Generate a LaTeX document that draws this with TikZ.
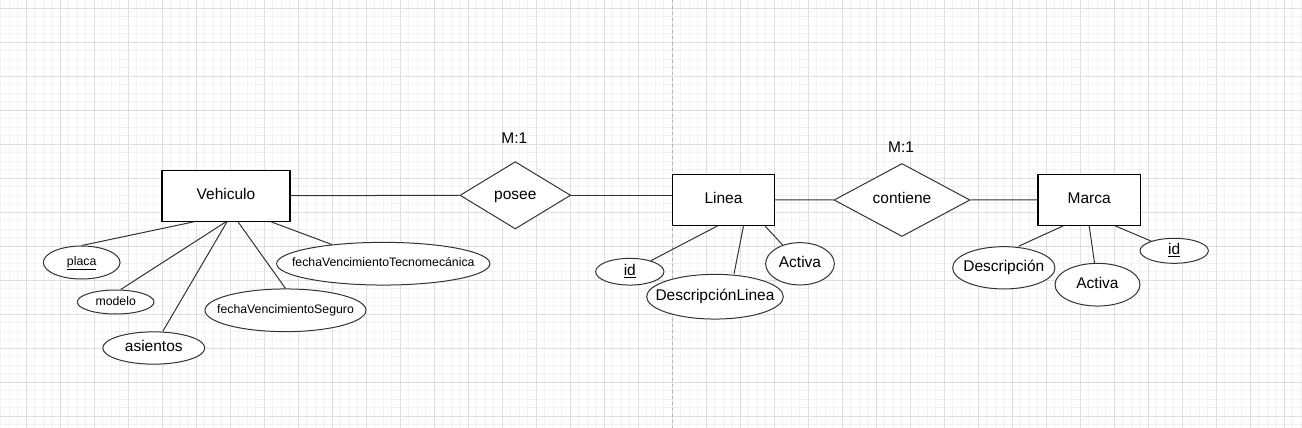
\documentclass[tikz,border=0pt]{standalone}
\usepackage{fontspec}
\setmainfont{Liberation Sans}
\usetikzlibrary{shapes.geometric}
\newcommand{\attrlabel}[1]{\makebox[0pt]{#1}}

\begin{document}
\begin{tikzpicture}[x=1pt,y=-1pt,
    bigtext/.style={font=\fontsize{15.5}{18}\selectfont,text height=11.1pt,text depth=3.3pt},
    smalltext/.style={font=\fontsize{12.3}{14}\selectfont,text height=8.8pt,text depth=2.6pt},
    entity/.style={draw=black,line width=1.2pt,fill=white,minimum width=128pt,minimum height=51pt,inner sep=0pt,bigtext},
    relation/.style={diamond,draw=black!80,line width=1pt,fill=white,inner sep=0pt,bigtext},
    attr/.style={ellipse,draw=black!80,line width=1pt,fill=white,inner sep=0pt,smalltext},
    bigattr/.style={attr,bigtext},
    link/.style={draw=black!80,line width=1pt}]
        \useasboundingbox[fill=white] (0,0) rectangle (1302,428);
        %% grid
        \foreach \i in {0,...,153} \draw[gray!10,line width=1pt] ({0.8+8.5*\i},0) -- ({0.8+8.5*\i},428);
        \foreach \j in {0,...,50} \draw[gray!10,line width=1pt] (0,{-0.2+8.5*\j}) -- (1302,{-0.2+8.5*\j});
        \foreach \i in {0,...,37} \draw[gray!25,line width=1pt] ({26.3+34*\i},0) -- ({26.3+34*\i},428);
        \foreach \j in {0,...,12} \draw[gray!25,line width=1pt] (0,{8.3+34*\j}) -- (1302,{8.3+34*\j});
        \draw[gray!60,line width=1pt,dashed] (672.3,0) -- (672.3,428);
        %% entities and relations
        \node[entity] (vehiculo) at (226,195.7) {Vehiculo};
        \node[relation,minimum width=110.7pt,minimum height=67.3pt] (posee) at (515.3,195.3) {posee};
        \node[entity,minimum width=101.6pt] (linea) at (723.5,199.8) {Linea};
        \node[relation,minimum width=136pt,minimum height=68.3pt] (contiene) at (902,200) {contiene};
        \node[entity,minimum width=102.3pt] (marca) at (1089.2,199.8) {Marca};
        \node[bigtext] (card1) at (514.3,140) {M:1};
        \node[bigtext] (card2) at (901,148.3) {M:1};
        %% attributes of Vehiculo
        \node[attr,minimum width=76.7pt,minimum height=33pt] (placa) at (81.7,262.5) {\attrlabel{\underline{placa}}};
        \node[attr,minimum width=76.7pt,minimum height=24pt] (modelo) at (115.7,302) {\attrlabel{modelo}};
        \node[bigattr,minimum width=102pt,minimum height=32.3pt] (asientos) at (153.8,348) {\attrlabel{asientos}};
        \node[attr,minimum width=161pt,minimum height=42.7pt] (seguro) at (285.5,310.3) {\attrlabel{fechaVencimientoSeguro}};
        \node[attr,minimum width=213.3pt,minimum height=42.7pt] (tecno) at (383.3,263.7) {\attrlabel{fechaVencimientoTecnomecánica}};
        %% attributes of Linea
        \node[bigattr,minimum width=68.3pt,minimum height=26.7pt] (idl) at (629.8,271.7) {\attrlabel{\underline{id}}};
        \node[bigattr,minimum width=136.7pt,minimum height=44.7pt] (descl) at (715,296.7) {\attrlabel{DescripciónLinea}};
        \node[bigattr,minimum width=68.7pt,minimum height=42.3pt] (actival) at (800,263.8) {\attrlabel{Activa}};
        %% attributes of Marca
        \node[bigattr,minimum width=102.3pt,minimum height=42.3pt] (descm) at (1003.8,267.8) {\attrlabel{Descripción}};
        \node[bigattr,minimum width=85pt,minimum height=42.7pt] (activam) at (1097.5,284.7) {\attrlabel{Activa}};
        \node[bigattr,minimum width=68.3pt,minimum height=25pt] (idm) at (1174.2,250.8) {\attrlabel{\underline{id}}};
        %% relation lines
        \draw[link] (vehiculo.east) -- (posee.west);
        \draw[link] (posee.east) -- (posee.east -| linea.west);
        \draw[link] (linea.east) -- (contiene.west);
        \draw[link] (contiene.east) -- (marca.west);
        %% attribute lines
        \draw[link] ([xshift=-32pt]vehiculo.south) -- (placa.north);
        \draw[link] (vehiculo.south) -- ([xshift=5pt]modelo.north);
        \draw[link] ([xshift=1pt]vehiculo.south) -- ([xshift=9pt]asientos.north);
        \draw[link] ([xshift=12pt]vehiculo.south) -- (seguro.north);
        \draw[link] ([xshift=45pt]vehiculo.south) -- (tecno);
        \draw[link] ([xshift=-6pt]linea.south) -- (idl);
        \draw[link] ([xshift=20pt]linea.south) -- ([xshift=19pt]descl.north);
        \draw[link] ([xshift=41.5pt]linea.south) -- (actival);
        \draw[link] ([xshift=-26pt]marca.south) -- ([xshift=15pt]descm.north);
        \draw[link] (marca.south) -- ([xshift=-3pt]activam.north);
        \draw[link] ([xshift=26pt]marca.south) -- (idm);
    \end{tikzpicture}
\end{document}
